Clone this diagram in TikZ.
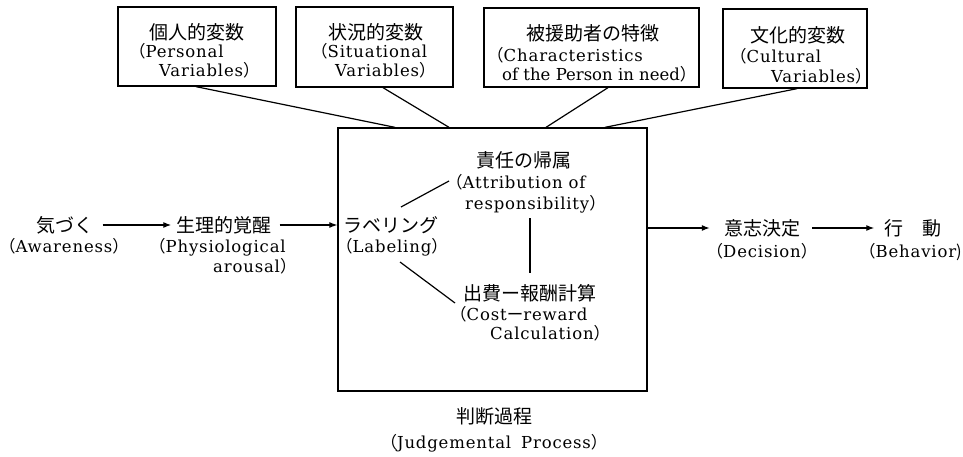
\documentclass[tikz,border=0pt]{standalone}
\usepackage{fontspec}
\setmainfont{DejaVu Serif}[LetterSpace=5]
\newfontfamily\ennarrow{DejaVu Serif}
\newfontfamily\cjk{Noto Sans CJK JP}
\usetikzlibrary{arrows.meta}
\newcommand\jlp{{\cjk （}}
\newcommand\jrp{{\cjk ）}}
\begin{document}
\begin{tikzpicture}[x=1pt,y=-1pt,
  box/.style={draw,line width=1.3pt,inner sep=0pt},
  jp/.style={font=\cjk\fontsize{19}{19}\selectfont,inner sep=0pt},
  en/.style={font=\fontsize{16.5}{18}\selectfont,inner sep=0pt,text height=13pt,text depth=3pt,anchor=west},
  ln/.style={line width=1.2pt},
  arr/.style={line width=1.2pt,-{Latex[length=8pt,width=6pt]}}]
\useasboundingbox (0,0) rectangle (963,457);
% boxes
\node[box,minimum width=158pt,minimum height=79pt] (b1) at (197,46.5) {};
\node[box,minimum width=157pt,minimum height=80pt] (b2) at (374.5,47) {};
\node[box,minimum width=215pt,minimum height=79pt] (b3) at (591.5,47.5) {};
\node[box,minimum width=144pt,minimum height=79pt] (b4) at (795,48.5) {};
\node[box,minimum width=309pt,minimum height=263pt] (main) at (492.5,259.5) {};
% box texts
\node[jp] (b1j) at (197,32) {個人的変数};
\node[en] (b1e1) at (129,53) {\jlp Personal};
\node[en] (b1e2) at (159,72) {Variables\jrp};
\node[jp] (b2j) at (376,32) {状況的変数};
\node[en] (b2e1) at (311,53) {\jlp Situational};
\node[en] (b2e2) at (335,72) {Variables\jrp};
\node[jp] (b3j) at (593,33) {被援助者の特徴};
\node[en] (b3e1) at (487,57) {\jlp Characteristics};
\node[en,font=\ennarrow\fontsize{16.5}{18}\selectfont] (b3e2) at (502,76) {of the Person in need\jrp};
\node[jp] (b4j) at (798,35) {文化的変数};
\node[en] (b4e1) at (730,58) {\jlp Cultural};
\node[en] (b4e2) at (771,78) {Variables\jrp};
% flow
\node[jp] (kz) at (65,225) {気づく};
\node[en,anchor=center] (kze) at (64,247) {\jlp Awareness\jrp};
\node[jp] (sr) at (224,225) {生理的覚醒};
\node[en] (sre1) at (149,247) {\jlp Physiological};
\node[en] (sre2) at (213,267) {arousal\jrp};
\node[jp] (lab) at (391,225) {ラベリング};
\node[en,anchor=center] (labe) at (392,247) {\jlp Labeling\jrp};
\node[jp] (resp) at (524,160) {責任の帰属};
\node[en] (respe1) at (446,184) {\jlp Attribution of};
\node[en] (respe2) at (465,204) {responsibility\jrp};
\node[jp] (cost) at (530,293) {出費ー報酬計算};
\node[en] (coste1) at (450,315) {\jlp Cost{\cjk ー}reward};
\node[en] (coste2) at (490,334) {Calculation\jrp};
\node[jp] (ishi) at (762,228) {意志決定};
\node[en,anchor=center] (ishie) at (762,252) {\jlp Decision\jrp};
\node[jp] (kd) at (913,228) {行　動};
\node[en,anchor=east] (kde) at (962,252) {\jlp Behavior{\cjk )}};
\node[jp] (hd) at (494,416) {判断過程};
\node[en,anchor=center] (hde) at (494,443) {\jlp Judgemental\hspace{0.6em}Process\jrp};
% connectors from boxes
\draw[ln] ([xshift=-1pt]b1.south) -- ([xshift=-97.5pt]main.north);
\draw[ln] ([xshift=8.5pt]b2.south) -- ([xshift=-43.5pt]main.north);
\draw[ln] ([xshift=16.5pt]b3.south) -- ([xshift=53.5pt]main.north);
\draw[ln] ([xshift=2pt]b4.south) -- ([xshift=112.5pt]main.north);
% inner lines
\draw[ln] ([shift={(10,-18)}]lab.center) -- ([shift={(-75,21)}]resp.center);
\draw[ln] ([shift={(6,58)}]resp.center) -- ([shift={(0,-20)}]cost.center);
\draw[ln] ([shift={(9,37)}]lab.center) -- ([shift={(-75,10)}]cost.center);
% arrows
\draw[arr] ([xshift=9pt]kz.east) -- ([xshift=-5pt]sr.west);
\draw[arr] ([xshift=8pt]sr.east) -- (sr.east -| main.west);
\draw[arr] (main.east |- ishi.west) -- ([xshift=-14pt]ishi.west);
\draw[arr] ([xshift=12pt]ishi.east) -- ([xshift=-10pt]kd.west);
\end{tikzpicture}
\end{document}
